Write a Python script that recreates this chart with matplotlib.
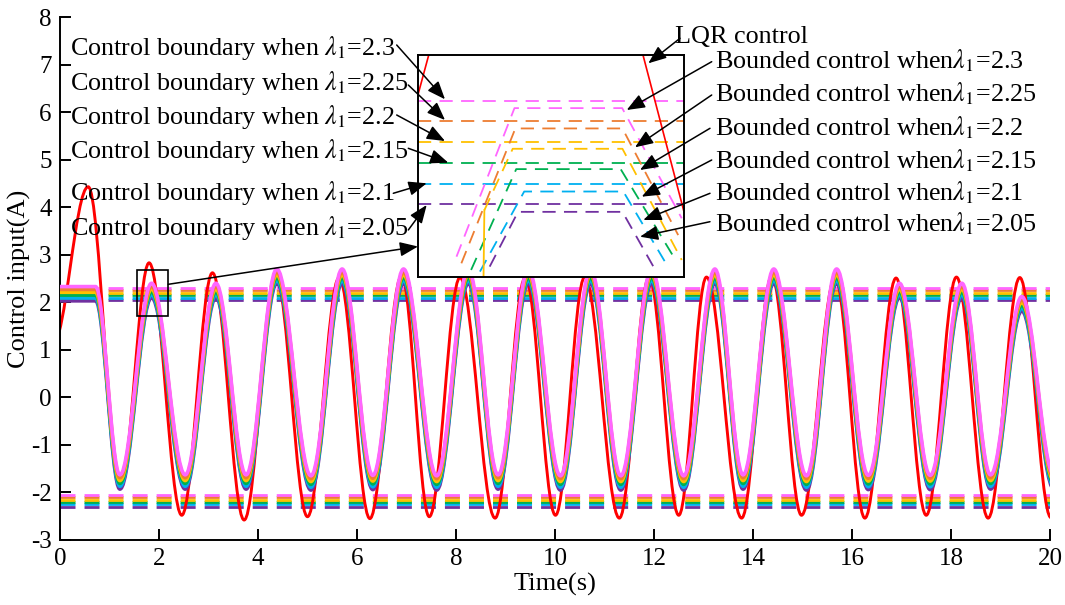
import matplotlib
matplotlib.use("Agg")
import matplotlib.pyplot as plt
from matplotlib.path import Path
from matplotlib.patches import PathPatch, Rectangle, FancyArrowPatch

plt.rcParams["font.family"] = ["Liberation Serif", "DejaVu Serif"]
plt.rcParams["mathtext.fontset"] = "stix"
plt.rcParams["axes.unicode_minus"] = False
plt.rcParams["lines.scale_dashes"] = False

# lambda_1 values, one bounded curve each
lambdas = [2.05, 2.1, 2.15, 2.2, 2.25, 2.3]
colors = ["#7030A0", "#00B0F0", "#00B050", "#FFC000", "#ED7D31", "#FF66FF"]
upper_bound = [2.05, 2.1, 2.15, 2.2, 2.25, 2.3]
lower_bound = [-2.3, -2.25, -2.2, -2.15, -2.1, -2.05]

# LQR control: turning points (time, value)
lqr_t = [-0.15, 0.57, 1.22, 1.80, 2.46, 3.08, 3.72, 4.36, 5.00, 5.64, 6.26, 6.90,
         7.46, 8.08, 8.79, 9.40, 10.01, 10.60, 11.30, 11.90, 12.50, 13.06, 13.77,
         14.38, 14.98, 15.66, 16.26, 16.89, 17.50, 18.11, 18.75, 19.39, 20.02]
lqr_u = [1.10, 4.43, -1.85, 2.83, -2.48, 2.62, -2.58, 2.55, -2.51, 2.52, -2.55, 2.55,
         -2.51, 2.52, -2.54, 2.52, -2.48, 2.53, -2.54, 2.52, -2.48, 2.53, -2.54,
         2.55, -2.48, 2.51, -2.54, 2.51, -2.48, 2.53, -2.54, 2.52, -2.53]

# bounded control for lambda_1=2.05: turning points; other curves are shifted up
bnd_t = [0.0, 0.72, 1.21, 1.85, 2.53, 3.15, 3.76, 4.38, 5.07, 5.70, 6.32, 6.94,
         7.61, 8.25, 8.85, 9.46, 10.11, 10.72, 11.33, 11.95, 12.60, 13.23, 13.80,
         14.42, 15.08, 15.69, 16.33, 16.96, 17.58, 18.22, 18.80, 19.43, 20.08]
bnd_u = [2.03, 2.03, -1.93, 2.10, -1.93, 2.10, -1.93, 2.40, -1.95, 2.40, -1.94, 2.40,
         -1.95, 2.40, -1.93, 2.40, -1.95, 2.40, -1.95, 2.40, -1.95, 2.40, -1.93,
         2.40, -1.95, 2.40, -1.94, 2.10, -1.94, 2.10, -1.93, 1.82, -1.93]
bnd_shift = [0.0, 0.06, 0.12, 0.18, 0.24, 0.30]

# zoomed view
ins_t = [[1.801, 1.833, 1.951, 1.986],
         [1.790, 1.840, 1.952, 1.999],
         [1.780, 1.831, 1.949, 2.011],
         [1.795, 1.827, 1.951, 2.018],
         [1.769, 1.830, 1.951, 2.014],
         [1.7635, 1.829, 1.9507, 2.018]]
ins_u = [[1.900, 2.032, 2.032, 1.900],
         [1.888, 2.081, 2.081, 1.912],
         [1.892, 2.135, 2.135, 1.916],
         [2.036, 2.184, 2.184, 1.916],
         [1.908, 2.233, 2.233, 1.976],
         [1.924, 2.282, 2.282, 2.0165]]
ins_lqr_t = [[1.715, 1.7334], [1.973, 2.025]]
ins_lqr_u = [[2.275, 2.42], [2.42, 1.996]]
ins_yel_t = [1.794, 1.795]
ins_yel_u = [1.87, 2.036]


def wave(t, u, k=0.363):
    verts = [(t[0], u[0])]
    codes = [Path.MOVETO]
    for i in range(len(t) - 1):
        d = (t[i + 1] - t[i]) * k
        verts += [(t[i] + d, u[i]), (t[i + 1] - d, u[i + 1]), (t[i + 1], u[i + 1])]
        codes += [Path.CURVE4] * 3
    return Path(verts, codes)


def fr(x, y):
    # reference pixel -> figure fraction
    return (x / 1065, 1 - y / 605)


fig = plt.figure(figsize=(10.65, 6.05), dpi=100)
ax = fig.add_axes([60 / 1065, 65 / 605, 990 / 1065, 523 / 605])

for ub, lb, c in zip(upper_bound, lower_bound, colors):
    ax.axhline(ub, color=c, lw=2.0, dashes=(10.8, 6.5), zorder=1)
    ax.axhline(lb, color=c, lw=2.0, dashes=(10.8, 6.5), zorder=1)

ax.add_patch(PathPatch(wave(lqr_t, lqr_u), fill=False, ec="#FF0000", lw=2.1,
                       zorder=2, joinstyle="round"))
for sh, c in zip(bnd_shift, colors):
    ax.add_patch(PathPatch(wave(bnd_t, [v + sh for v in bnd_u]), fill=False,
                           ec=c, lw=2.6, zorder=3, joinstyle="round"))

ax.add_patch(Rectangle((1.55, 1.72), 0.64, 0.96, fill=False, ec="k", lw=1.2, zorder=4))

ax.set_xlim(0, 20)
ax.set_ylim(-3, 8)
ax.set_xticks(range(0, 21, 2))
ax.set_yticks(range(-3, 9))
ax.spines["top"].set_visible(False)
ax.spines["right"].set_visible(False)
for s in ["left", "bottom"]:
    ax.spines[s].set_linewidth(1.4)
ax.tick_params(direction="in", length=8, width=1.4, labelsize=18, pad=6)
ax.set_xlabel("Time(s)", fontsize=19, labelpad=2)
ax.set_ylabel("Control input(A)", fontsize=19)
ax.yaxis.set_label_coords(-0.029, 0.5)

# inset
axins = fig.add_axes([418 / 1065, 1 - 277 / 605, 265.5 / 1065, 222 / 605])
for ub, c in zip(upper_bound, colors):
    axins.axhline(ub, color=c, lw=1.3, dashes=(9.5, 6))
for t, u, c in zip(ins_t, ins_u, colors):
    axins.plot(t, u, color=c, lw=1.3, dashes=(9.5, 6))
axins.plot(ins_yel_t, ins_yel_u, color=colors[3], lw=1.3)
for t, u in zip(ins_lqr_t, ins_lqr_u):
    axins.plot(t, u, color="#FF0000", lw=1.2)
axins.set_xlim(1.72, 2.02)
axins.set_ylim(1.875, 2.41)
axins.set_xticks([])
axins.set_yticks([])
for s in axins.spines.values():
    s.set_linewidth(1.4)

# annotations (layout in reference pixels)
arrow_kw = dict(arrowstyle="-|>,head_length=0.55,head_width=0.22", mutation_scale=20,
                lw=1.1, color="k", shrinkA=0, shrinkB=0, transform=fig.transFigure)

fig.add_artist(FancyArrowPatch(fr(168.3, 284.3), fr(418, 246.5), **arrow_kw))

left_lbl = ["2.3", "2.25", "2.2", "2.15", "2.1", "2.05"]
left_y = [55, 90, 124.3, 158.3, 200, 235]
left_from = [(396.7, 45), (408.3, 85), (396.7, 115), (408.3, 148.3), (393.3, 193.3), (408.3, 230)]
left_to = [(445, 99.3), (445, 120), (445, 141), (448.3, 162.7), (426.7, 183.3), (426.7, 205)]
for lbl, y, a, b in zip(left_lbl, left_y, left_from, left_to):
    fig.text(*fr(70, y), "Control boundary when $\\lambda_1$=" + lbl, fontsize=18.8,
             va="baseline", ha="left")
    fig.add_artist(FancyArrowPatch(fr(*a), fr(*b), **arrow_kw))

right_y = [68.3, 101.7, 135, 168.3, 200, 231.7]
right_from = [(711.7, 61.7), (711.7, 95), (710, 128.3), (711.7, 160), (710, 193.3), (710, 221.7)]
right_to = [(626.7, 110), (635, 147.3), (640, 170), (641.7, 196.7), (643.3, 220), (640, 236.7)]
for lbl, y, a, b in zip(left_lbl, right_y, right_from, right_to):
    fig.text(*fr(715, y), "Bounded control when$\\lambda_1$=" + lbl, fontsize=18.8,
             va="baseline", ha="left")
    fig.add_artist(FancyArrowPatch(fr(*a), fr(*b), **arrow_kw))

fig.text(*fr(675, 43.3), "LQR control", fontsize=18.8, va="baseline", ha="left")
fig.add_artist(FancyArrowPatch(fr(680, 38.3), fr(648.3, 63.3), **arrow_kw))

fig.savefig("out.png", dpi=100)
